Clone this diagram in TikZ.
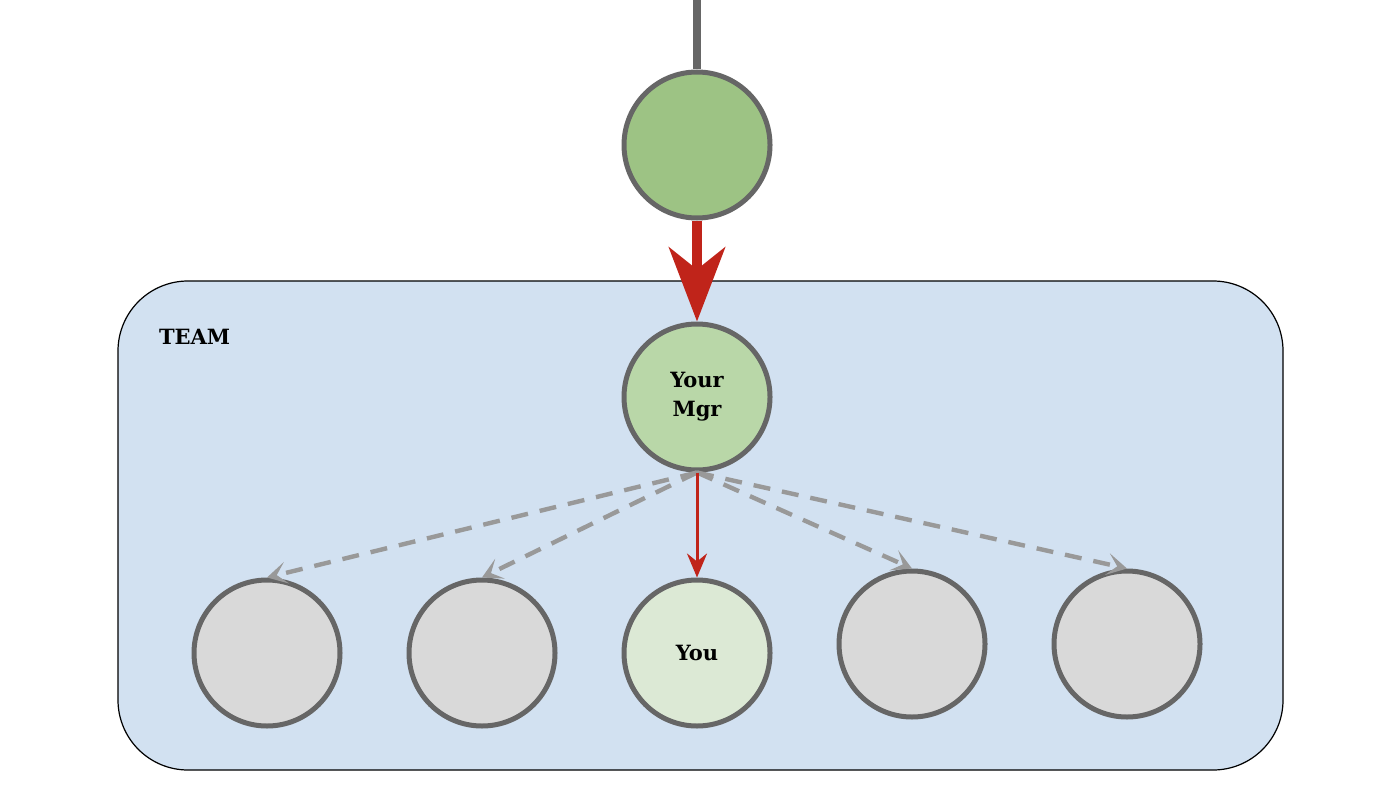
\documentclass[tikz,border=0pt]{standalone}
\usepackage{fontspec}
\setmainfont{DejaVu Serif}
\usetikzlibrary{arrows.meta}
\definecolor{topgreen}{HTML}{9DC384}
\definecolor{mgrgreen}{HTML}{B9D7A8}
\definecolor{yougreen}{HTML}{DCE9D5}
\definecolor{peer}{HTML}{D9D9D9}
\definecolor{ring}{HTML}{666666}
\definecolor{teamblue}{HTML}{D2E1F1}
\definecolor{redarrow}{HTML}{C0241A}
\definecolor{dashgray}{HTML}{999999}
\tikzset{
  person/.style={circle, draw=ring, line width=2.5pt, minimum size=73pt, inner sep=0pt, align=center, font=\bfseries\fontsize{10.5}{14.5}\selectfont},
  bigred/.style={draw=redarrow, line width=5pt, -{Stealth[length=37pt,width=28pt,inset=11pt]}},
  smallred/.style={draw=redarrow, line width=1.5pt, -{Stealth[length=12pt,width=10pt,inset=4pt]}},
  dashlink/.style={draw=dashgray, line width=2.2pt, dash pattern=on 8.5pt off 6pt, -{Stealth[length=10pt,width=11pt,inset=5pt]}},
}
\begin{document}
\begin{tikzpicture}[x=0.5pt,y=-0.5pt]
\useasboundingbox (0,0) rectangle (1400,786);
\fill[white] (0,0) rectangle (1400,786);
% team box
\node[draw=black, line width=0.6pt, fill=teamblue, rounded corners=35pt, minimum width=582.5pt, minimum height=244.5pt, inner sep=0pt] (team) at (700.5,525.5) {};
\node[font=\bfseries\fontsize{10.5}{13}\selectfont, anchor=base west] (teamlabel) at (152,344) {TEAM};
% circles
\node[person, fill=topgreen] (top) at (697,145) {};
\node[person, fill=mgrgreen] (mgr) at (697,397) {Your\\Mgr};
\node[person, fill=peer] (p1) at (267,653) {};
\node[person, fill=peer] (p2) at (482,653) {};
\node[person, fill=yougreen] (you) at (697,653) {You};
\node[person, fill=peer] (p4) at (912,644) {};
\node[person, fill=peer] (p5) at (1127,644) {};
% connectors
\coordinate (upper) at (697,0);
\draw[ring, line width=4pt] (upper) -- (top.north);
\draw[bigred] (top.south) -- (mgr.north);
\draw[dashlink] (mgr.south) -- (p1.north);
\draw[dashlink] (mgr.south) -- (p2.north);
\draw[dashlink] (mgr.south) -- (p4.north);
\draw[dashlink] (mgr.south) -- (p5.north);
\draw[smallred] (mgr.south) -- (you.north);
\end{tikzpicture}
\end{document}
